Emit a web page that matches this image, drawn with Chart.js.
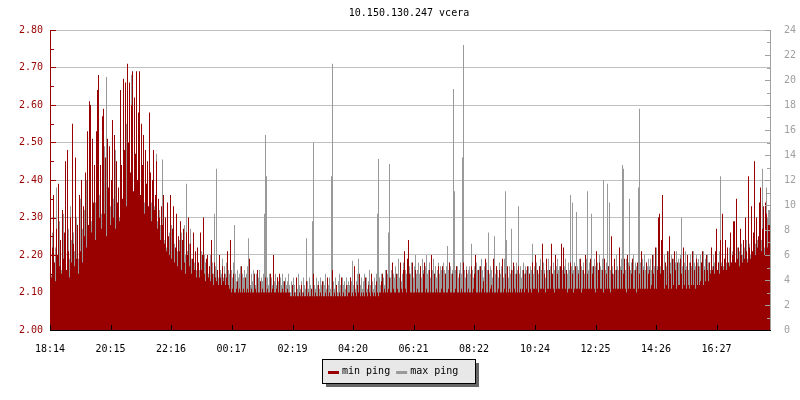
<!DOCTYPE html>
<html>
<head>
<meta charset="utf-8">
<title>10.150.130.247 vcera</title>
<script src="https://cdn.jsdelivr.net/npm/chart.js@4.4.1/dist/chart.umd.min.js"></script>
<style>
  html, body { margin: 0; padding: 0; background: #fff; }
  #wrap { width: 800px; height: 400px; }
</style>
</head>
<body>
<div id="wrap"><canvas id="ping" width="800" height="400"></canvas></div>
<script>
// ---------------------------------------------------------------
// data (one sample every 2 minutes, starting at 18:14)
// ---------------------------------------------------------------
const chartTitle = '10.150.130.247 vcera';
const startTime = '18:14';
const sampleMinutes = 2;

const xTickLabels = ['18:14', '20:15', '22:16', '00:17', '02:19', '04:20',
                     '06:21', '08:22', '10:24', '12:25', '14:26', '16:27'];

const leftMin = 2.0, leftMax = 2.8, leftStep = 0.1;
const rightMin = 0, rightMax = 24, rightStep = 2;

const seriesLabels = ['min ping', 'max ping'];
const seriesColors = ['#990000', '#999999'];

const minPing = [
  2.15, 2.29, 2.14, 2.22, 2.36, 2.18, 2.13, 2.27, 2.20, 2.39, 2.17, 2.24, 2.15, 2.32, 2.19, 2.26, 2.45, 2.16, 2.48, 2.21, 2.14, 2.30, 2.18, 2.55, 2.23, 2.17, 2.46, 2.19, 2.28, 2.15,
  2.36, 2.21, 2.40, 2.18, 2.33, 2.25, 2.42, 2.22, 2.53, 2.28, 2.61, 2.60, 2.26, 2.51, 2.34, 2.44, 2.24, 2.53, 2.64, 2.68, 2.30, 2.44, 2.27, 2.57, 2.59, 2.31, 2.46, 2.25, 2.51, 2.38,
  2.49, 2.28, 2.40, 2.56, 2.30, 2.52, 2.27, 2.45, 2.34, 2.38, 2.29, 2.64, 2.44, 2.35, 2.67, 2.48, 2.66, 2.33, 2.71, 2.50, 2.66, 2.42, 2.60, 2.69, 2.37, 2.62, 2.47, 2.69, 2.40, 2.58,
  2.69, 2.36, 2.55, 2.44, 2.52, 2.31, 2.48, 2.39, 2.45, 2.33, 2.58, 2.42, 2.29, 2.40, 2.48, 2.32, 2.36, 2.45, 2.27, 2.35, 2.30, 2.24, 2.33, 2.28, 2.36, 2.23, 2.30, 2.21, 2.34, 2.25,
  2.20, 2.36, 2.19, 2.27, 2.33, 2.18, 2.22, 2.31, 2.17, 2.25, 2.21, 2.29, 2.16, 2.24, 2.27, 2.18, 2.15, 2.26, 2.20, 2.30, 2.17, 2.23, 2.15, 2.19, 2.26, 2.16, 2.21, 2.14, 2.22, 2.18,
  2.14, 2.26, 2.16, 2.20, 2.30, 2.15, 2.13, 2.19, 2.20, 2.14, 2.17, 2.13, 2.24, 2.15, 2.12, 2.18, 2.14, 2.13, 2.16, 2.12, 2.20, 2.14, 2.12, 2.17, 2.13, 2.15, 2.12, 2.14, 2.21, 2.12,
  2.11, 2.24, 2.10, 2.11, 2.15, 2.10, 2.10, 2.11, 2.13, 2.10, 2.11, 2.10, 2.17, 2.10, 2.11, 2.10, 2.14, 2.10, 2.11, 2.10, 2.19, 2.10, 2.11, 2.10, 2.10, 2.15, 2.11, 2.10, 2.16, 2.10,
  2.10, 2.13, 2.10, 2.11, 2.10, 2.10, 2.14, 2.10, 2.11, 2.10, 2.10, 2.15, 2.10, 2.11, 2.20, 2.10, 2.10, 2.11, 2.14, 2.10, 2.15, 2.10, 2.10, 2.11, 2.10, 2.13, 2.10, 2.10, 2.11, 2.10,
  2.10, 2.09, 2.09, 2.12, 2.09, 2.10, 2.09, 2.14, 2.09, 2.09, 2.10, 2.09, 2.12, 2.09, 2.10, 2.09, 2.09, 2.13, 2.09, 2.10, 2.09, 2.09, 2.11, 2.09, 2.15, 2.09, 2.10, 2.09, 2.09, 2.12,
  2.09, 2.10, 2.09, 2.13, 2.09, 2.09, 2.10, 2.09, 2.14, 2.09, 2.10, 2.09, 2.09, 2.16, 2.09, 2.10, 2.09, 2.12, 2.09, 2.09, 2.10, 2.09, 2.14, 2.09, 2.10, 2.09, 2.09, 2.12, 2.09, 2.10,
  2.10, 2.14, 2.09, 2.10, 2.09, 2.17, 2.10, 2.09, 2.12, 2.10, 2.15, 2.09, 2.10, 2.09, 2.10, 2.09, 2.14, 2.10, 2.09, 2.12, 2.10, 2.09, 2.15, 2.10, 2.09, 2.10, 2.09, 2.13, 2.10, 2.09,
  2.10, 2.10, 2.13, 2.15, 2.10, 2.11, 2.10, 2.16, 2.10, 2.11, 2.14, 2.10, 2.10, 2.18, 2.11, 2.10, 2.10, 2.15, 2.11, 2.10, 2.10, 2.18, 2.11, 2.10, 2.16, 2.21, 2.11, 2.10, 2.19, 2.24,
  2.15, 2.10, 2.10, 2.18, 2.10, 2.10, 2.16, 2.10, 2.11, 2.10, 2.10, 2.17, 2.10, 2.10, 2.15, 2.18, 2.10, 2.11, 2.10, 2.10, 2.16, 2.10, 2.20, 2.10, 2.10, 2.15, 2.10, 2.11, 2.10, 2.17,
  2.10, 2.10, 2.11, 2.17, 2.10, 2.10, 2.15, 2.10, 2.10, 2.11, 2.18, 2.10, 2.10, 2.15, 2.10, 2.10, 2.11, 2.17, 2.10, 2.10, 2.15, 2.10, 2.11, 2.10, 2.18, 2.10, 2.10, 2.16, 2.10, 2.11,
  2.10, 2.10, 2.17, 2.10, 2.11, 2.15, 2.20, 2.10, 2.10, 2.16, 2.10, 2.17, 2.10, 2.11, 2.13, 2.10, 2.19, 2.10, 2.10, 2.16, 2.10, 2.11, 2.12, 2.10, 2.19, 2.10, 2.10, 2.17, 2.10, 2.11,
  2.16, 2.10, 2.10, 2.19, 2.10, 2.11, 2.15, 2.10, 2.17, 2.10, 2.11, 2.10, 2.16, 2.10, 2.18, 2.11, 2.10, 2.15, 2.10, 2.17, 2.10, 2.11, 2.10, 2.11, 2.16, 2.10, 2.15, 2.11, 2.17, 2.10,
  2.15, 2.11, 2.10, 2.18, 2.11, 2.11, 2.20, 2.11, 2.16, 2.10, 2.17, 2.11, 2.11, 2.23, 2.11, 2.15, 2.10, 2.19, 2.11, 2.11, 2.16, 2.11, 2.23, 2.15, 2.11, 2.10, 2.20, 2.11, 2.15, 2.11,
  2.11, 2.17, 2.23, 2.11, 2.22, 2.15, 2.11, 2.16, 2.10, 2.11, 2.11, 2.18, 2.11, 2.15, 2.10, 2.11, 2.17, 2.11, 2.11, 2.15, 2.11, 2.19, 2.10, 2.11, 2.16, 2.11, 2.20, 2.11, 2.15, 2.11,
  2.11, 2.19, 2.11, 2.15, 2.17, 2.11, 2.10, 2.21, 2.11, 2.16, 2.18, 2.11, 2.11, 2.16, 2.10, 2.19, 2.11, 2.15, 2.11, 2.17, 2.11, 2.10, 2.25, 2.15, 2.11, 2.19, 2.11, 2.16, 2.11, 2.11,
  2.22, 2.11, 2.16, 2.11, 2.15, 2.19, 2.11, 2.10, 2.20, 2.11, 2.17, 2.11, 2.15, 2.19, 2.11, 2.11, 2.16, 2.10, 2.18, 2.11, 2.15, 2.11, 2.21, 2.11, 2.16, 2.11, 2.11, 2.18, 2.11, 2.15,
  2.16, 2.11, 2.12, 2.20, 2.15, 2.11, 2.22, 2.11, 2.16, 2.30, 2.31, 2.15, 2.24, 2.36, 2.16, 2.11, 2.18, 2.12, 2.21, 2.11, 2.25, 2.15, 2.11, 2.19, 2.12, 2.21, 2.16, 2.11, 2.18, 2.12,
  2.12, 2.19, 2.15, 2.11, 2.22, 2.12, 2.16, 2.11, 2.20, 2.12, 2.11, 2.18, 2.12, 2.21, 2.12, 2.16, 2.11, 2.19, 2.12, 2.17, 2.12, 2.13, 2.18, 2.21, 2.12, 2.16, 2.13, 2.20, 2.16, 2.13,
  2.18, 2.15, 2.22, 2.16, 2.17, 2.15, 2.21, 2.27, 2.16, 2.18, 2.15, 2.24, 2.17, 2.31, 2.16, 2.19, 2.24, 2.16, 2.22, 2.18, 2.17, 2.26, 2.18, 2.20, 2.29, 2.29, 2.18, 2.35, 2.19, 2.22,
  2.17, 2.27, 2.20, 2.18, 2.24, 2.19, 2.30, 2.21, 2.18, 2.41, 2.22, 2.19, 2.33, 2.21, 2.26, 2.45, 2.20, 2.30, 2.22, 2.25, 2.34, 2.38, 2.21, 2.27, 2.33, 2.20, 2.34, 2.31, 2.22, 2.28
];

const maxPing = [
  2.24, 2.20, 2.15, 2.26, 2.28, 2.18, 2.22, 2.38, 2.20, 2.16, 2.29, 2.23, 2.16, 2.25, 2.31, 2.19, 2.27, 2.14, 2.22, 2.27, 2.19, 2.33, 2.24, 2.18, 2.26, 2.21, 2.17, 2.30, 2.23, 2.19,
  2.24, 2.35, 2.22, 2.27, 2.20, 2.32, 2.26, 2.40, 2.28, 2.23, 2.26, 2.36, 2.29, 2.31, 2.25, 2.30, 2.34, 2.27, 2.33, 2.29, 2.36, 2.26, 2.31, 2.28, 2.33, 2.49, 2.30, 2.675, 2.34, 2.31,
  2.28, 2.33, 2.30, 2.27, 2.35, 2.31, 2.48, 2.29, 2.26, 2.34, 2.30, 2.36, 2.28, 2.32, 2.38, 2.30, 2.45, 2.55, 2.34, 2.30, 2.36, 2.41, 2.68, 2.38, 2.32, 2.35, 2.29, 2.37, 2.33, 2.30,
  2.36, 2.28, 2.33, 2.31, 2.26, 2.34, 2.30, 2.27, 2.32, 2.29, 2.26, 2.31, 2.34, 2.28, 2.30, 2.33, 2.27, 2.47, 2.29, 2.26, 2.32, 2.28, 2.24, 2.455, 2.27, 2.24, 2.29, 2.22, 2.26, 2.21,
  2.26, 2.22, 2.28, 2.19, 2.25, 2.23, 2.20, 2.27, 2.21, 2.18, 2.24, 2.20, 2.26, 2.19, 2.22, 2.28, 2.20, 2.39, 2.21, 2.18, 2.23, 2.27, 2.19, 2.17, 2.22, 2.18, 2.20, 2.16, 2.21, 2.18,
  2.16, 2.19, 2.21, 2.17, 2.15, 2.20, 2.18, 2.16, 2.19, 2.15, 2.17, 2.20, 2.16, 2.18, 2.15, 2.31, 2.17, 2.43, 2.16, 2.14, 2.18, 2.16, 2.15, 2.19, 2.14, 2.17, 2.15, 2.18, 2.14, 2.16,
  2.15, 2.13, 2.16, 2.14, 2.18, 2.28, 2.15, 2.13, 2.16, 2.14, 2.15, 2.17, 2.13, 2.15, 2.14, 2.16, 2.13, 2.15, 2.17, 2.245, 2.14, 2.12, 2.15, 2.13, 2.16, 2.14, 2.12, 2.15, 2.13, 2.14,
  2.16, 2.12, 2.14, 2.13, 2.15, 2.31, 2.52, 2.41, 2.14, 2.12, 2.15, 2.13, 2.14, 2.12, 2.16, 2.13, 2.15, 2.12, 2.14, 2.13, 2.11, 2.14, 2.12, 2.15, 2.13, 2.11, 2.14, 2.12, 2.13, 2.15,
  2.12, 2.10, 2.13, 2.11, 2.14, 2.12, 2.10, 2.13, 2.11, 2.15, 2.12, 2.11, 2.13, 2.10, 2.14, 2.12, 2.11, 2.245, 2.13, 2.11, 2.14, 2.12, 2.10, 2.29, 2.50, 2.12, 2.11, 2.14, 2.12, 2.13,
  2.11, 2.14, 2.12, 2.10, 2.13, 2.12, 2.15, 2.11, 2.13, 2.12, 2.14, 2.11, 2.41, 2.71, 2.13, 2.11, 2.14, 2.12, 2.10, 2.13, 2.15, 2.12, 2.11, 2.14, 2.12, 2.13, 2.11, 2.14, 2.12, 2.13,
  2.12, 2.14, 2.13, 2.185, 2.12, 2.14, 2.11, 2.13, 2.15, 2.19, 2.13, 2.12, 2.14, 2.11, 2.13, 2.15, 2.12, 2.14, 2.11, 2.13, 2.16, 2.12, 2.14, 2.13, 2.11, 2.14, 2.12, 2.15, 2.31, 2.456,
  2.14, 2.12, 2.15, 2.13, 2.14, 2.12, 2.16, 2.13, 2.15, 2.26, 2.443, 2.14, 2.16, 2.13, 2.15, 2.14, 2.17, 2.13, 2.15, 2.19, 2.14, 2.16, 2.13, 2.15, 2.18, 2.14, 2.16, 2.15, 2.17, 2.14,
  2.17, 2.15, 2.18, 2.16, 2.14, 2.17, 2.20, 2.15, 2.16, 2.18, 2.15, 2.17, 2.14, 2.19, 2.16, 2.15, 2.17, 2.20, 2.15, 2.16, 2.18, 2.14, 2.17, 2.16, 2.19, 2.15, 2.17, 2.14, 2.16, 2.18,
  2.15, 2.17, 2.16, 2.14, 2.18, 2.16, 2.15, 2.17, 2.224, 2.16, 2.14, 2.17, 2.15, 2.16, 2.643, 2.37, 2.16, 2.15, 2.17, 2.14, 2.16, 2.18, 2.15, 2.46, 2.76, 2.16, 2.14, 2.17, 2.15, 2.16,
  2.17, 2.15, 2.23, 2.16, 2.14, 2.17, 2.15, 2.18, 2.16, 2.14, 2.17, 2.15, 2.19, 2.16, 2.14, 2.17, 2.15, 2.18, 2.16, 2.26, 2.15, 2.17, 2.16, 2.14, 2.18, 2.25, 2.15, 2.17, 2.16, 2.14,
  2.18, 2.15, 2.17, 2.16, 2.14, 2.19, 2.37, 2.24, 2.16, 2.14, 2.17, 2.15, 2.27, 2.16, 2.14, 2.17, 2.15, 2.18, 2.16, 2.33, 2.15, 2.17, 2.14, 2.16, 2.18, 2.15, 2.17, 2.16, 2.14, 2.17,
  2.15, 2.17, 2.16, 2.23, 2.15, 2.17, 2.14, 2.18, 2.16, 2.15, 2.17, 2.19, 2.16, 2.15, 2.18, 2.16, 2.14, 2.17, 2.16, 2.19, 2.15, 2.17, 2.16, 2.14, 2.18, 2.16, 2.15, 2.17, 2.19, 2.16,
  2.17, 2.15, 2.18, 2.16, 2.15, 2.17, 2.19, 2.16, 2.15, 2.18, 2.16, 2.36, 2.17, 2.34, 2.16, 2.18, 2.15, 2.315, 2.17, 2.16, 2.19, 2.15, 2.17, 2.16, 2.18, 2.15, 2.17, 2.19, 2.37, 2.16,
  2.18, 2.16, 2.31, 2.17, 2.15, 2.19, 2.17, 2.16, 2.18, 2.15, 2.20, 2.17, 2.16, 2.19, 2.40, 2.17, 2.16, 2.18, 2.39, 2.17, 2.34, 2.16, 2.19, 2.17, 2.15, 2.18, 2.16, 2.20, 2.17, 2.16,
  2.18, 2.17, 2.19, 2.44, 2.43, 2.17, 2.16, 2.19, 2.17, 2.18, 2.35, 2.16, 2.18, 2.17, 2.20, 2.16, 2.18, 2.17, 2.16, 2.38, 2.59, 2.18, 2.16, 2.19, 2.17, 2.20, 2.16, 2.18, 2.17, 2.19,
  2.17, 2.19, 2.16, 2.18, 2.20, 2.17, 2.19, 2.22, 2.17, 2.18, 2.20, 2.17, 2.19, 2.18, 2.16, 2.20, 2.18, 2.17, 2.19, 2.21, 2.17, 2.18, 2.20, 2.17, 2.19, 2.16, 2.18, 2.21, 2.17, 2.19,
  2.18, 2.20, 2.30, 2.17, 2.19, 2.18, 2.21, 2.17, 2.19, 2.16, 2.18, 2.20, 2.17, 2.19, 2.21, 2.18, 2.17, 2.20, 2.18, 2.19, 2.17, 2.20, 2.18, 2.19, 2.21, 2.17, 2.19, 2.18, 2.20, 2.18,
  2.18, 2.16, 2.19, 2.17, 2.20, 2.18, 2.17, 2.19, 2.16, 2.18, 2.21, 2.41, 2.18, 2.20, 2.17, 2.19, 2.21, 2.18, 2.20, 2.17, 2.22, 2.19, 2.18, 2.21, 2.19, 2.23, 2.18, 2.20, 2.22, 2.19,
  2.21, 2.18, 2.23, 2.20, 2.19, 2.22, 2.20, 2.24, 2.19, 2.21, 2.23, 2.20, 2.22, 2.19, 2.25, 2.21, 2.23, 2.20, 2.24, 2.22, 2.26, 2.21, 2.24, 2.43, 2.27, 2.22, 2.25, 2.38, 2.30, 2.32
];

// ---------------------------------------------------------------
// helpers
// ---------------------------------------------------------------
const MONO = '"DejaVu Sans Mono", "Liberation Mono", monospace';

function toMinutes(label) {
    const [h, m] = label.split(':').map(Number);
    const [h0, m0] = startTime.split(':').map(Number);
    return ((h * 60 + m) - (h0 * 60 + m0) + 1440) % 1440;
}

// stepped series: every value holds until the next sample
function toPoints(values) {
    const pts = values.map((v, i) => ({ x: i * sampleMinutes, y: v }));
    pts.push({ x: values.length * sampleMinutes, y: values[values.length - 1] });
    return pts;
}

// axes with inward ticks, title and boxed legend (rrd style)
const framePlugin = {
    id: 'frame',
    afterDraw(chart) {
        const { ctx, chartArea: a, scales } = chart;
        ctx.save();
        ctx.lineWidth = 1;

        // left axis
        const yL = scales.y;
        ctx.strokeStyle = seriesColors[0];
        ctx.beginPath();
        ctx.moveTo(a.left + 0.5, a.top);
        ctx.lineTo(a.left + 0.5, a.bottom);
        const nL = Math.round((leftMax - leftMin) / (leftStep / 2));
        for (let k = 0; k <= nL; k++) {
            const py = Math.round(yL.getPixelForValue(leftMin + k * leftStep / 2)) + 0.5;
            ctx.moveTo(a.left, py);
            ctx.lineTo(a.left + (k % 2 === 0 ? 6 : 4), py);
        }
        ctx.stroke();

        // right axis
        const yR = scales.y2;
        ctx.strokeStyle = '#a0a0a0';
        ctx.beginPath();
        ctx.moveTo(a.right + 0.5, a.top);
        ctx.lineTo(a.right + 0.5, a.bottom);
        const nR = Math.round((rightMax - rightMin) / (rightStep / 2));
        for (let k = 0; k <= nR; k++) {
            const py = Math.round(yR.getPixelForValue(rightMin + k * rightStep / 2)) + 0.5;
            ctx.moveTo(a.right, py);
            ctx.lineTo(a.right - (k % 2 === 0 ? 5 : 3), py);
        }
        ctx.stroke();

        // bottom axis
        const x = scales.x;
        ctx.strokeStyle = '#000';
        ctx.beginPath();
        ctx.moveTo(a.left, a.bottom + 0.5);
        ctx.lineTo(a.right + 1, a.bottom + 0.5);
        x.ticks.forEach(t => {
            const px = Math.round(x.getPixelForValue(t.value)) + 0.5;
            ctx.moveTo(px, a.bottom);
            ctx.lineTo(px, a.bottom - 5);
        });
        ctx.stroke();

        // title
        ctx.font = '10px ' + MONO;
        ctx.fillStyle = '#000';
        ctx.textAlign = 'center';
        ctx.textBaseline = 'middle';
        ctx.fillText(chartTitle, 409, 13);

        // legend box with shadow
        const lx = 322, ly = 359, lw = 153, lh = 24;
        ctx.fillStyle = '#666';
        ctx.fillRect(lx + 4, ly + 4, lw, lh);
        ctx.fillStyle = '#e8e8e8';
        ctx.fillRect(lx, ly, lw, lh);
        ctx.strokeStyle = '#000';
        ctx.strokeRect(lx + 0.5, ly + 0.5, lw, lh);

        ctx.textAlign = 'left';
        let cx = lx + 6;
        const cy = ly + lh / 2 + 0.5;
        chart.data.datasets.forEach(ds => {
            ctx.fillStyle = ds.backgroundColor;
            ctx.fillRect(cx, Math.round(cy) - 1, 11, 3);
            cx += 14;
            ctx.fillStyle = '#000';
            ctx.fillText(ds.label, cx, cy);
            cx += ctx.measureText(ds.label).width + 6;
        });

        ctx.restore();
    }
};

// ---------------------------------------------------------------
// chart: max ping area behind, min ping area in front
// ---------------------------------------------------------------
new Chart(document.getElementById('ping'), {
    type: 'line',
    data: {
        datasets: [
            {
                label: seriesLabels[0],
                data: toPoints(minPing),
                borderColor: 'rgba(0,0,0,0)',
                backgroundColor: seriesColors[0],
                borderWidth: 0,
                fill: 'start',
                stepped: 'after',
                pointRadius: 0,
                order: 0
            },
            {
                label: seriesLabels[1],
                data: toPoints(maxPing),
                borderColor: 'rgba(0,0,0,0)',
                backgroundColor: seriesColors[1],
                borderWidth: 0,
                fill: 'start',
                stepped: 'after',
                pointRadius: 0,
                order: 1
            }
        ]
    },
    options: {
        responsive: false,
        animation: false,
        events: [],
        layout: { padding: { top: 30, left: 0, right: 0, bottom: 0 } },
        plugins: {
            legend: { display: false },
            title: { display: false },
            tooltip: { enabled: false }
        },
        scales: {
            x: {
                type: 'linear',
                min: 0,
                max: minPing.length * sampleMinutes,
                afterBuildTicks: scale => {
                    scale.ticks = xTickLabels.map(l => ({ value: toMinutes(l) }));
                },
                afterFit: scale => { scale.height = 70; },
                ticks: {
                    autoSkip: false,
                    maxRotation: 0,
                    padding: 5,
                    color: '#000',
                    font: { family: MONO, size: 10 },
                    callback: (v, i) => xTickLabels[i]
                },
                grid: { display: false },
                border: { display: false }
            },
            y: {
                position: 'left',
                min: leftMin,
                max: leftMax,
                afterFit: scale => { scale.width = 50; },
                ticks: {
                    stepSize: leftStep,
                    padding: 7,
                    color: seriesColors[0],
                    font: { family: MONO, size: 10 },
                    callback: v => v.toFixed(2)
                },
                grid: { color: '#c0c0c0', drawTicks: false },
                border: { display: false }
            },
            y2: {
                position: 'right',
                min: rightMin,
                max: rightMax,
                afterFit: scale => { scale.width = 30; },
                ticks: {
                    stepSize: rightStep,
                    padding: 6,
                    color: '#a0a0a0',
                    font: { family: MONO, size: 10 }
                },
                grid: { display: false },
                border: { display: false }
            }
        }
    },
    plugins: [framePlugin]
});
</script>
</body>
</html>
